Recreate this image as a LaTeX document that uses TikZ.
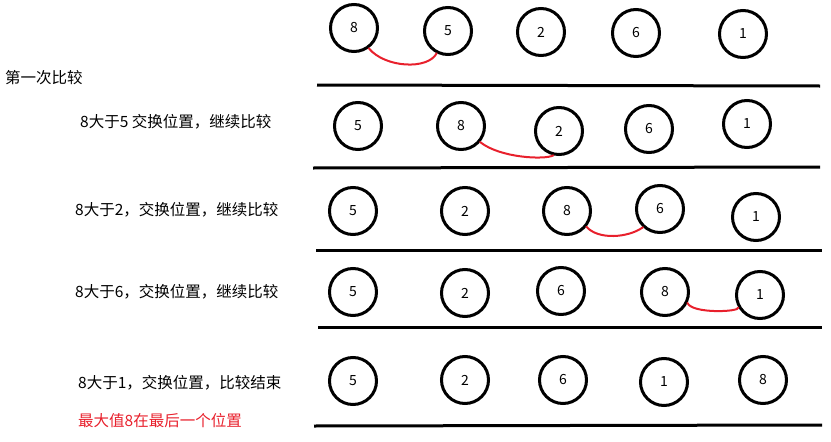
\documentclass[tikz,border=0pt]{standalone}
\usepackage{fontspec}
\setmainfont{Noto Sans CJK SC}
\definecolor{swapred}{RGB}{232,32,44}
\begin{document}
\begin{tikzpicture}[%
            x=1pt, y=-1pt,
            mycircle/.style={shape=circle,draw=black,line width=3pt,minimum size=47pt,inner sep=0pt,
                font=\fontsize{14}{16}\selectfont},
            myswap/.style={draw=swapred,line width=2pt,line cap=round},
            mytext/.style={anchor=west,inner sep=0pt,font=\fontsize{15.5}{18}\selectfont},
            mybar/.style={line width=3pt}
    ]
        \useasboundingbox (0,0) rectangle (831,442);

        % row 1
        \node [mycircle] (r1a) at (354,28) {8};
        \node [mycircle] (r1b) at (448,31) {5};
        \node [mycircle] (r1c) at (541,32) {2};
        \node [mycircle] (r1d) at (636,33) {6};
        \node [mycircle] (r1e) at (743,34) {1};
        \draw [myswap] (r1a.-54) .. controls (385,68) and (428,70) .. (r1b.-117);

        % row 2
        \node [mycircle] (r2a) at (358,126) {5};
        \node [mycircle] (r2b) at (461,126) {8};
        \node [mycircle] (r2c) at (559,131) {2};
        \node [mycircle] (r2d) at (649,129) {6};
        \node [mycircle] (r2e) at (747,124) {1};
        \draw [myswap] (r2b.-40) .. controls (500,158) and (545,160) .. (r2c.-103);

        % row 3
        \node [mycircle] (r3a) at (353,211) {5};
        \node [mycircle] (r3b) at (465,211) {2};
        \node [mycircle] (r3c) at (567,211) {8};
        \node [mycircle] (r3d) at (660,209) {6};
        \node [mycircle] (r3e) at (756,217) {1};
        \draw [myswap] (r3c.-39) .. controls (598,240) and (628,238) .. (r3d.-133);

        % row 4
        \node [mycircle] (r4a) at (353,292) {5};
        \node [mycircle] (r4b) at (465,293) {2};
        \node [mycircle] (r4c) at (561,291) {6};
        \node [mycircle] (r4d) at (665,292) {8};
        \node [mycircle] (r4e) at (760,295) {1};
        \draw [myswap] (r4d.-26) .. controls (692,314) and (740,312) .. (r4e.-150);

        % row 5
        \node [mycircle] (r5a) at (353,381) {5};
        \node [mycircle] (r5b) at (465,380) {2};
        \node [mycircle] (r5c) at (563,380) {6};
        \node [mycircle] (r5d) at (664,382) {1};
        \node [mycircle] (r5e) at (763,380) {8};

        \draw [mybar] (317,85) -- (820,86);
        \draw [mybar] (313,168) -- (820,167);
        \draw [mybar] (316,250) -- (822,250);
        \draw [mybar] (318,327) -- (822,327);
        \draw [mybar] (314,426) -- (822,425);

        \node [mytext] (t0) at (5,78) {第一次比较};
        \node [mytext] (t1) at (80,122) {8大于5 交换位置，继续比较};
        \node [mytext] (t2) at (75,210) {8大于2，交换位置，继续比较};
        \node [mytext] (t3) at (75,292) {8大于6，交换位置，继续比较};
        \node [mytext] (t4) at (78,383) {8大于1，交换位置，比较结束};
        \node [mytext,text=swapred] (t5) at (78,421) {最大值8在最后一个位置};
    \end{tikzpicture}
\end{document}
